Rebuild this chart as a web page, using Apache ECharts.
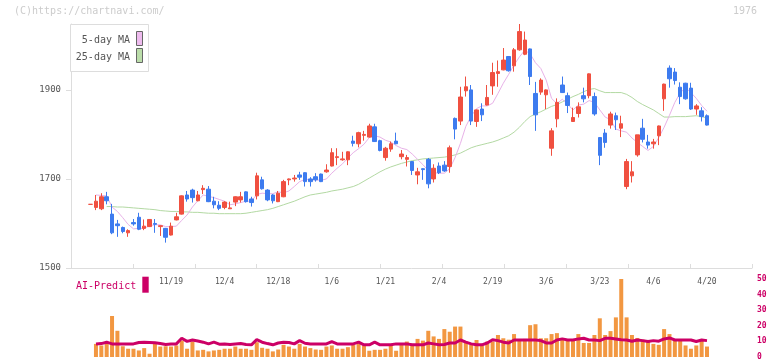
<!DOCTYPE html>
<html><head><meta charset="utf-8">
<script src="https://cdn.jsdelivr.net/npm/echarts@6/dist/echarts.min.js"></script>
<style>html,body{margin:0;padding:0;background:#fff}#c{width:772px;height:361px}</style>
</head><body><div id="c"></div>
<script>
const tickLabels = ['11/19','12/4','12/18','1/6','1/21','2/4','2/19','3/6','3/23','4/6','4/20'];
const tickIndex = [15,25,35,45,55,65,75,85,95,105,115];
const priceTicks = [1500,1700,1900];
const volumeTicks = [0,10,20,30,40,50];

const openP = [1643,1636,1633,1660,1621,1599,1591,1579,1602,1614,1589,
1593,1600,1593,1589,1574,1608,1621,1664,1675,1651,
1676,1677,1650,1641,1636,1633,1648,1653,1671,1655,
1662,1698,1675,1664,1649,1660,1698,1700,1709,1714,
1700,1705,1711,1716,1729,1748,1743,1743,1785,1779,
1798,1794,1817,1786,1748,1767,1785,1750,1744,1739,
1709,1723,1744,1700,1729,1731,1728,1836,1830,1898,
1900,1829,1857,1866,1909,1937,1945,1975,1954,1990,
1980,1992,1892,1895,1889,1769,1835,1911,1887,1829,
1847,1887,1887,1885,1793,1803,1821,1842,1814,1683,
1707,1754,1814,1783,1779,1797,1880,1949,1940,1906,
1915,1904,1857,1853,1842];
const closeP = [1643,1650,1660,1651,1579,1595,1582,1584,1599,1587,1594,
1609,1598,1595,1569,1594,1615,1662,1655,1658,1664,
1679,1649,1642,1634,1648,1635,1660,1660,1649,1647,
1707,1678,1653,1651,1668,1694,1700,1702,1704,1694,
1694,1698,1694,1720,1759,1750,1745,1761,1780,1804,
1800,1819,1784,1764,1769,1779,1779,1756,1748,1719,
1716,1721,1689,1724,1714,1718,1770,1812,1884,1907,
1830,1855,1844,1883,1939,1941,1967,1943,1990,2031,
2012,1930,1844,1922,1900,1808,1872,1894,1865,1838,
1862,1880,1936,1846,1753,1782,1846,1833,1824,1739,
1716,1799,1789,1776,1783,1819,1913,1925,1921,1885,
1880,1857,1864,1840,1821];
const lowP = [1643,1630,1630,1643,1576,1570,1578,1570,1595,1585,1585,
1592,1579,1572,1557,1573,1607,1620,1649,1647,1650,
1666,1648,1634,1630,1632,1633,1639,1647,1647,1638,
1654,1676,1650,1645,1648,1659,1686,1694,1698,1683,
1683,1694,1693,1714,1728,1731,1741,1731,1773,1771,
1786,1793,1783,1762,1741,1761,1778,1744,1728,1709,
1688,1698,1679,1692,1711,1716,1714,1789,1821,1885,
1821,1817,1830,1865,1889,1907,1944,1941,1941,1988,
1978,1911,1808,1889,1857,1752,1816,1893,1848,1828,
1838,1872,1881,1842,1731,1770,1813,1810,1794,1677,
1692,1750,1782,1768,1768,1776,1853,1905,1912,1868,
1878,1855,1844,1829,1820];
const highP = [1643,1664,1668,1671,1644,1608,1593,1587,1610,1624,1609,
1610,1610,1596,1590,1602,1624,1663,1673,1678,1673,
1686,1684,1660,1650,1650,1649,1661,1671,1672,1660,
1714,1705,1677,1666,1673,1698,1701,1709,1716,1715,
1704,1713,1712,1733,1769,1769,1761,1762,1797,1806,
1808,1824,1824,1788,1772,1784,1804,1765,1754,1740,
1725,1724,1747,1733,1737,1740,1775,1838,1907,1930,
1911,1856,1870,1911,1961,1966,1994,1976,1994,2048,
2031,1993,1918,1926,1901,1814,1881,1930,1894,1860,
1872,1905,1937,1894,1794,1812,1851,1849,1842,1745,
1740,1799,1835,1799,1790,1820,1914,1955,1949,1917,
1916,1916,1868,1861,1845];
const ma5 = [null,1664,1663,1662,1637,1627,1613,1598,1588,1589,1589,
1595,1597,1597,1593,1593,1594,1607,1619,1637,1651,
1664,1661,1658,1654,1650,1642,1644,1647,1650,1650,
1665,1668,1667,1667,1671,1669,1673,1683,1694,1699,
1699,1698,1697,1700,1713,1724,1734,1747,1759,1768,
1778,1793,1797,1794,1787,1783,1775,1769,1766,1756,
1744,1732,1719,1714,1713,1713,1723,1748,1780,1818,
1841,1858,1864,1864,1870,1892,1915,1935,1956,1974,
1989,1981,1961,1948,1922,1881,1869,1879,1868,1855,
1866,1868,1876,1872,1855,1839,1833,1812,1808,1805,
1792,1782,1773,1764,1773,1793,1816,1843,1872,1893,
1905,1894,1881,1865,1852];
const ma25 = [null,null,null,1638,1638,1637,1637,1636,1635,1634,1633,
1632,1631,1629,1628,1627,1627,1626,1626,1625,1625,
1624,1623,1623,1622,1622,1622,1622,1622,1623,1625,
1627,1629,1631,1634,1638,1642,1646,1650,1655,1660,
1664,1666,1668,1670,1673,1675,1677,1680,1683,1688,
1695,1702,1709,1716,1722,1727,1731,1735,1738,1741,
1743,1745,1746,1747,1748,1749,1751,1754,1758,1764,
1770,1774,1777,1780,1783,1787,1792,1797,1805,1816,
1829,1840,1846,1851,1857,1863,1867,1873,1879,1885,
1890,1896,1901,1903,1898,1894,1894,1894,1894,1890,
1883,1874,1867,1861,1855,1847,1839,1839,1840,1840,
1840,1841,1842,1840,1837];
const volume = [0,8.4,7.4,8.4,26.3,16.8,6.9,5.3,5.3,4.2,5.7,
2.1,8.4,6.7,6.9,6.7,7.4,10.5,5.3,9.9,4.2,
4.6,3.6,4.2,4.6,5.3,5.3,6.7,5.3,5.3,4.6,
9.5,5.9,5.3,3.6,4.8,7.8,6.7,5.3,8.4,6.7,
5.7,4.8,4.6,6.7,7.4,5.3,5.3,6.3,7.8,9.0,
7.4,4.0,4.6,4.6,5.3,7.4,4.0,8.4,9.9,8.4,
11.6,10.5,16.8,13.2,11.6,17.9,16.2,19.5,19.5,9.9,
7.8,10.9,7.4,9.9,9.9,14.1,12.0,11.1,14.7,10.9,
11.6,20.4,21.0,12.0,12.0,14.7,15.3,11.6,11.1,11.1,
14.7,9.0,9.0,14.1,24.8,14.1,16.6,25.4,50,25.4,
14.1,12.2,11.1,9.9,8.4,7.8,17.9,14.7,10.5,10.5,
7.4,5.3,7.4,10.5,6.7];
const aiPredict = [null,8.4,8.6,9.5,8.4,8.4,8.4,8.4,8.4,9.3,9.5,
9.3,9.1,8.6,8.0,8.4,8.4,12.0,10.0,10.9,10.2,
9.5,8.4,9.5,8.2,8.4,8.0,8.4,8.6,8.0,7.8,
11.1,9.5,8.6,7.8,9.0,9.5,9.3,8.4,10.5,8.8,
8.4,8.4,8.4,8.4,9.9,8.4,8.4,8.4,8.4,9.5,
7.8,7.8,9.5,7.8,7.8,7.8,8.4,8.4,8.4,7.8,
7.8,7.8,9.0,8.4,7.8,8.0,9.0,9.0,10.9,9.5,
8.4,7.8,7.8,9.0,11.1,10.5,9.5,9.0,10.9,10.9,
10.9,10.9,10.9,10.5,9.0,9.0,10.9,11.6,10.9,10.9,
11.6,12.0,10.9,10.9,10.5,12.0,12.0,11.6,11.1,10.9,
10.1,10.9,10.5,9.9,10.5,10.1,11.6,12.2,10.9,10.9,
10.9,10.9,9.9,10.9,10.5];

const categories = openP.map((_, i) => {
  const k = tickIndex.indexOf(i);
  return k >= 0 ? tickLabels[k] : '';
});
const candles = openP.map((o, i) => [o, closeP[i], lowP[i], highP[i]]);

const MONO = '"DejaVu Sans Mono", "Liberation Mono", monospace';
const AXIS = '#dddddd';
const TXT = '#555555';
const CRIMSON = '#cc0066';

const chart = echarts.init(document.getElementById('c'), null, {renderer: 'canvas'});
chart.setOption({
  animation: false,
  backgroundColor: '#ffffff',
  grid: [
    {left: 71, top: 24, width: 681, height: 244},
    {left: 87.92, top: 24, width: 621.76, height: 244},
    {left: 87.92, top: 279, width: 621.76, height: 78.7}
  ],
  xAxis: [
    {gridIndex: 0, type: 'value', min: 0, max: 11, interval: 1,
     axisLine: {show: true, lineStyle: {color: AXIS, width: 1}},
     axisTick: {show: true, inside: true, length: 4, lineStyle: {color: AXIS}},
     axisLabel: {show: false}, splitLine: {show: false}},
    {gridIndex: 1, type: 'category', data: categories, boundaryGap: true,
     axisLine: {show: false}, axisTick: {show: false}, splitLine: {show: false},
     axisLabel: {show: true, interval: 0, margin: 10, color: TXT, fontFamily: MONO, fontSize: 8}},
    {gridIndex: 2, type: 'category', data: categories, boundaryGap: true, show: false}
  ],
  yAxis: [
    {gridIndex: 0, type: 'value', min: 1500, max: 2048,
     axisLine: {show: true, lineStyle: {color: AXIS, width: 1}},
     axisTick: {show: true, length: 5, customValues: priceTicks, lineStyle: {color: AXIS}},
     axisLabel: {show: true, customValues: priceTicks, margin: 10, color: TXT, fontFamily: MONO, fontSize: 9,
                 formatter: v => String(v)},
     splitLine: {show: false}},
    {gridIndex: 1, type: 'value', min: 1500, max: 2048, show: false},
    {gridIndex: 2, type: 'value', min: 0, max: 50, interval: 10, position: 'right', offset: 42.3,
     axisLine: {show: false}, axisTick: {show: false}, splitLine: {show: false},
     axisLabel: {show: true, customValues: volumeTicks, margin: 5, color: CRIMSON, fontFamily: MONO, fontSize: 8, fontWeight: 'bold',
                 formatter: v => String(v)}}
  ],
  series: [
    {type: 'line', name: '25-day MA', xAxisIndex: 1, yAxisIndex: 1, data: ma25, symbol: 'none', z: 1,
     lineStyle: {color: '#b3d9a3', width: 1}},
    {type: 'line', name: '5-day MA', xAxisIndex: 1, yAxisIndex: 1, data: ma5, symbol: 'none', z: 1,
     lineStyle: {color: '#e8b2e8', width: 1}},
    {type: 'candlestick', xAxisIndex: 1, yAxisIndex: 1, data: candles, barWidth: 4, z: 3,
     itemStyle: {color: '#f05040', color0: '#3d7bef', borderColor: '#f05040', borderColor0: '#3d7bef', borderWidth: 1}},
    {type: 'bar', xAxisIndex: 2, yAxisIndex: 2, data: volume, barWidth: 4, z: 2,
     itemStyle: {color: '#f29741'}},
    {type: 'line', name: 'AI-Predict', xAxisIndex: 2, yAxisIndex: 2, data: aiPredict, symbol: 'none', z: 3,
     lineStyle: {color: CRIMSON, width: 3}}
  ],
  graphic: [
    {type: 'text', left: 14, top: 6, style: {text: '(C)https://chartnavi.com/', fill: '#cccccc', font: '10px ' + MONO}},
    {type: 'text', right: 15, top: 6, style: {text: '1976', fill: '#cccccc', font: '10px ' + MONO}},
    {type: 'rect', shape: {x: 70.5, y: 24.5, width: 78, height: 47}, style: {fill: '#ffffff', stroke: '#dddddd', lineWidth: 1}, z: 10},
    {type: 'text', z: 11, style: {x: 130, y: 40, text: '5-day MA', fill: TXT, font: '10px ' + MONO, textAlign: 'right', textVerticalAlign: 'middle'}},
    {type: 'rect', z: 11, shape: {x: 136.5, y: 31.5, width: 6, height: 14}, style: {fill: '#eebbee', stroke: '#666666', lineWidth: 1}},
    {type: 'text', z: 11, style: {x: 130, y: 57, text: '25-day MA', fill: TXT, font: '10px ' + MONO, textAlign: 'right', textVerticalAlign: 'middle'}},
    {type: 'rect', z: 11, shape: {x: 136.5, y: 48.5, width: 6, height: 14}, style: {fill: '#bbddaa', stroke: '#666666', lineWidth: 1}},
    {type: 'text', z: 11, style: {x: 76, y: 286, text: 'AI-Predict', fill: CRIMSON, font: '10px ' + MONO, textVerticalAlign: 'middle'}},
    {type: 'rect', z: 11, shape: {x: 142.3, y: 276.7, width: 6.4, height: 16}, style: {fill: CRIMSON}}
  ]
});
</script>
</body></html>
